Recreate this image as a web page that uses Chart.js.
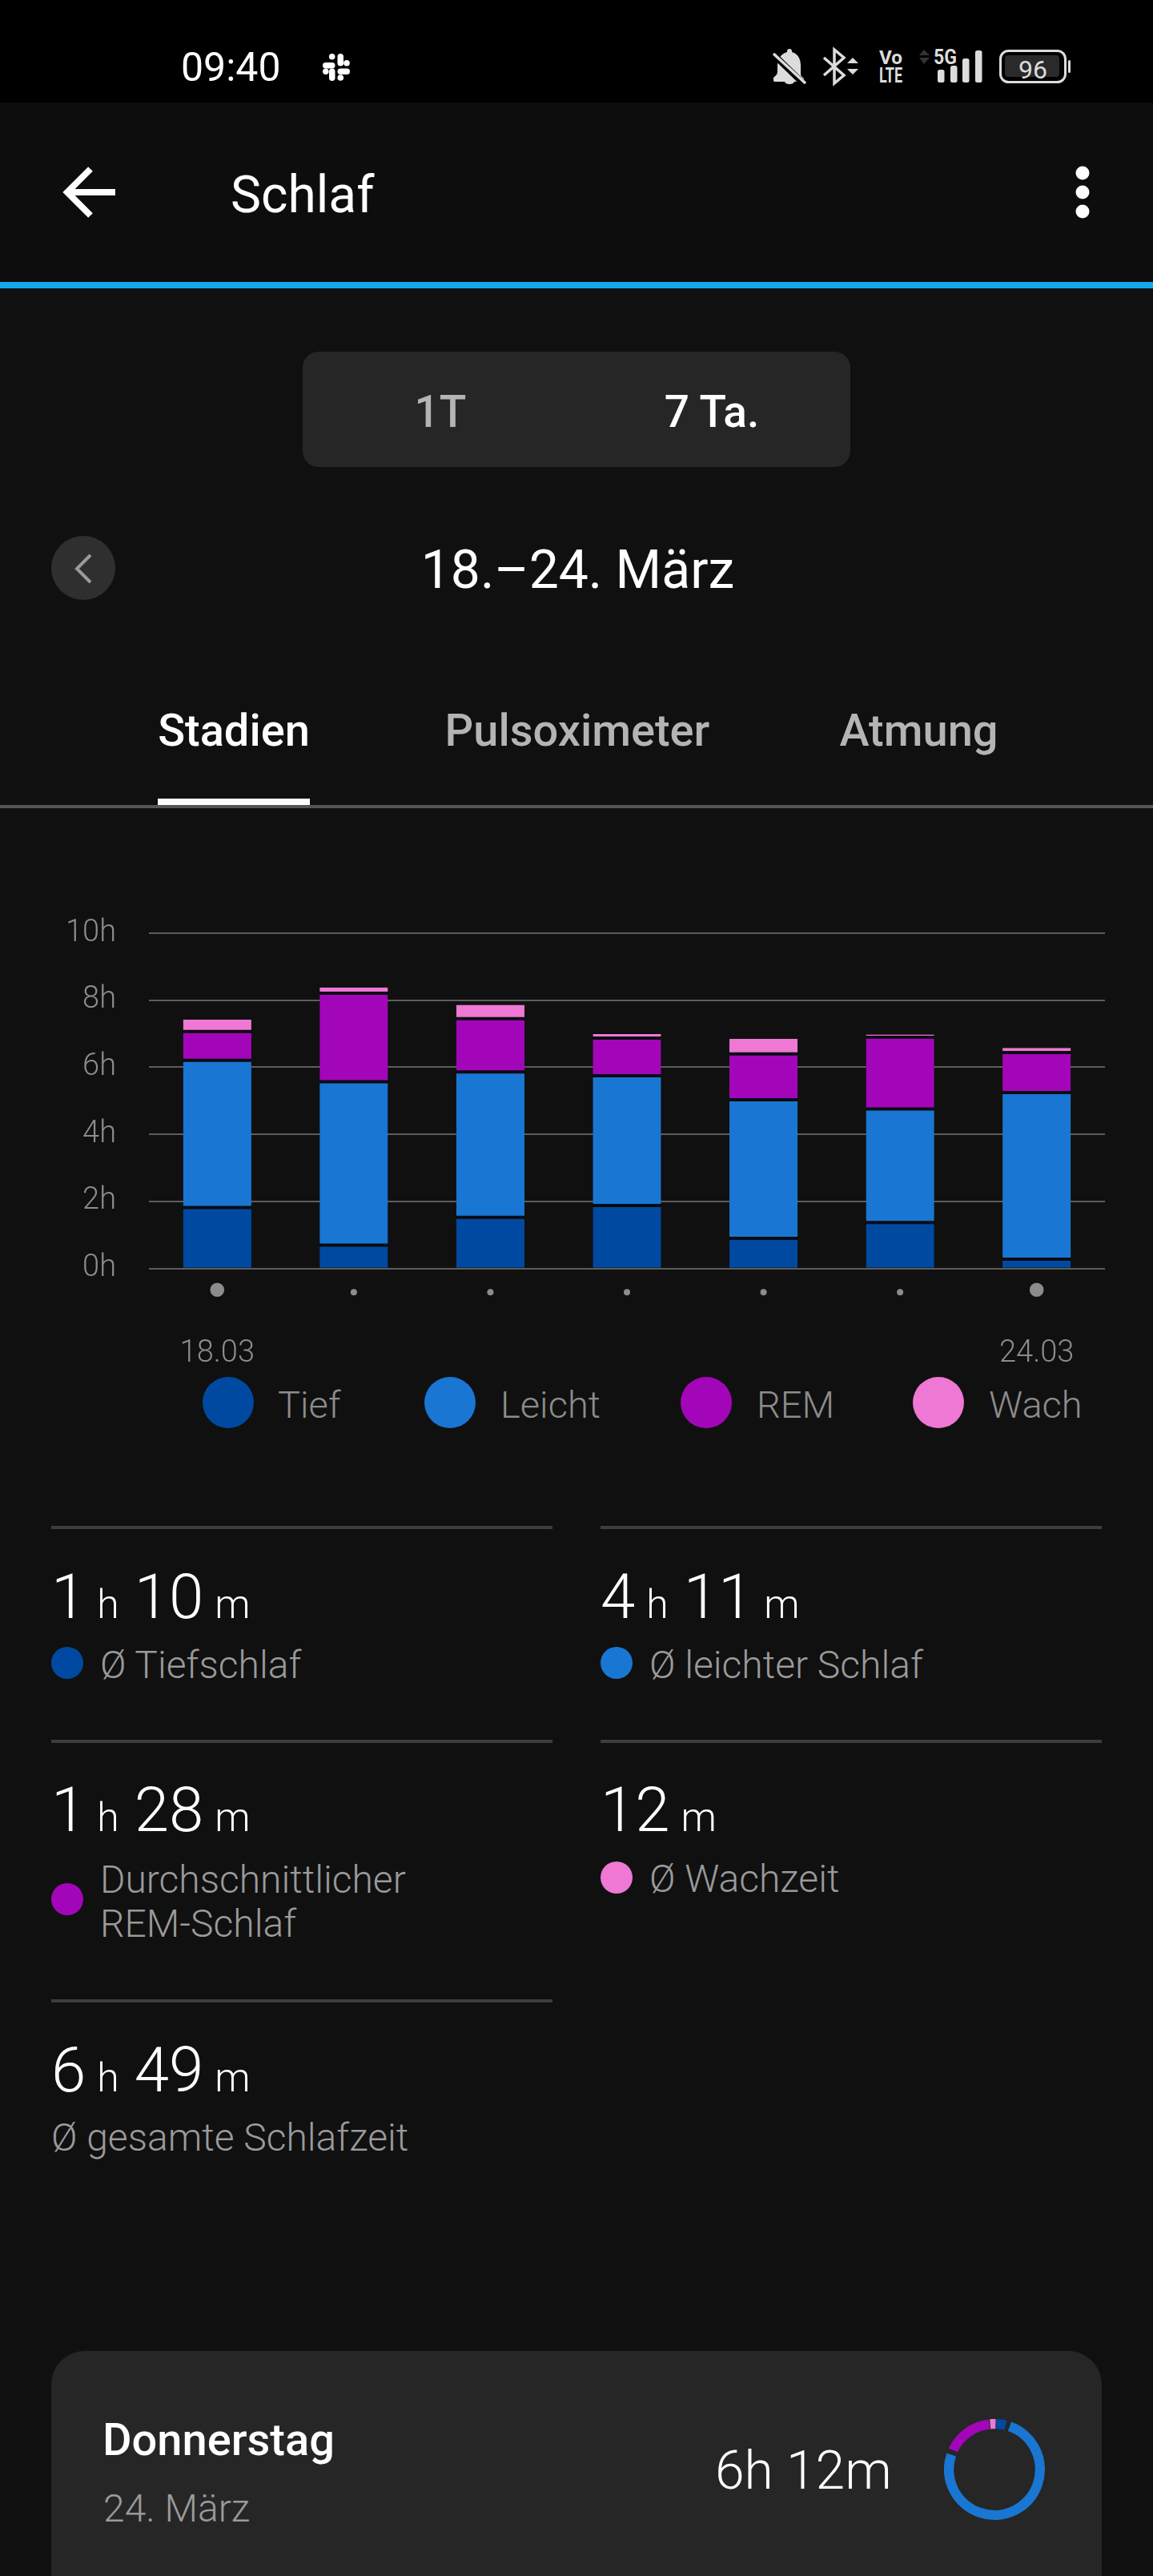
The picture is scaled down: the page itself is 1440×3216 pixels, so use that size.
<!DOCTYPE html>
<html lang="de">
<head>
<meta charset="utf-8">
<title>Schlaf</title>
<script src="https://cdn.jsdelivr.net/npm/chart.js@4/dist/chart.umd.min.js"></script>
<style>
html,body{margin:0;padding:0;background:#101010;width:1440px;height:3216px;overflow:hidden;font-family:Roboto,sans-serif;}
.b{position:absolute;}
.t{position:absolute;white-space:nowrap;line-height:1;}
canvas{display:block;}
</style>
</head>
<body>
<div class="b" style="left:0;top:0;width:1440px;height:128px;background:#000"></div>
<div class="b" style="left:0;top:128px;width:1440px;height:224px;background:#0d0d0d"></div>
<div class="b" style="left:0;top:352px;width:1440px;height:8px;background:#12a8ee"></div>
<div class="b" style="left:378px;top:439px;width:684px;height:144px;background:#262626;border-radius:20px"></div>
<div class="b" style="left:197px;top:997px;width:190px;height:8px;background:#fff"></div>
<div class="b" style="left:0;top:1005px;width:1440px;height:4px;background:#555"></div>
<div class="b" style="left:64px;top:2935px;width:1312px;height:320px;background:#262626;border-radius:42px"></div>

<svg class="b" style="left:0;top:0" width="1440" height="760" viewBox="0 0 1440 760">
  <!-- slack -->
  <g transform="translate(400,64)" fill="#fff">
    <rect x="3" y="14" width="15.5" height="7.5" rx="3.75"/><circle cx="14.7" cy="6.8" r="3.8"/>
    <rect x="21.5" y="3" width="7.5" height="15.5" rx="3.75"/><circle cx="33" cy="14.7" r="3.8"/>
    <rect x="21.5" y="21.5" width="15.5" height="7.5" rx="3.75"/><circle cx="25.3" cy="33" r="3.8"/>
    <rect x="11" y="21.5" width="7.5" height="15.5" rx="3.75"/><circle cx="6.8" cy="25.3" r="3.8"/>
  </g>
  <!-- bell -->
  <g fill="#dcdcdc">
    <path d="M986 61c2 0 3 1 3 3v1c8 2 11 9 11 17v11c0 2 2 3 4 5v2c0 1-1 2-3 2h-33c-2 0-2-1-2-2v-3c2-2 5-4 5-7V82c0-8 4-15 12-17v-1c0-2 1-3 3-3z"/>
    <path d="M980 101h12c0 3-3 4-6 4s-6-1-6-4z"/>
    <path d="M966 68l38 37" stroke="#000" stroke-width="8"/>
    <path d="M966 67l40 37" stroke="#dcdcdc" stroke-width="3.5"/>
  </g>
  <!-- bluetooth -->
  <path d="M1029 72l25 22-12 10V62l12 10-25 22" fill="none" stroke="#dcdcdc" stroke-width="3.5"/>
  <path d="M1058 79l7-7 7 7zM1058 86l14 0-7 7z" fill="#dcdcdc"/>
  <!-- volte -->
  <g fill="#dcdcdc" font-family="Roboto" font-weight="700">
    <text x="1098" y="80" font-size="23" textLength="29" lengthAdjust="spacingAndGlyphs">Vo</text>
    <text x="1098" y="103" font-size="25" textLength="29" lengthAdjust="spacingAndGlyphs">LTE</text>
    <text x="1166" y="80" font-size="26" textLength="29" lengthAdjust="spacingAndGlyphs">5G</text>
  </g>
  <path d="M1148 69l6-7 7 7zM1148 72h13l-7 8z" fill="#333"/>
  <g fill="#dcdcdc">
    <rect x="1171" y="87" width="8.5" height="16" rx="2.5"/>
    <rect x="1187" y="82" width="8.5" height="21" rx="2.5"/>
    <rect x="1202" y="73" width="8.5" height="30" rx="2.5"/>
    <rect x="1218" y="63" width="8.5" height="40" rx="2.5"/>
    <rect x="1334" y="75" width="3" height="16" rx="1.5"/>
  </g>
  <rect x="1249.5" y="63.5" width="81" height="39" rx="10" fill="none" stroke="#dcdcdc" stroke-width="3"/>
  <rect x="1255" y="69" width="68" height="27" rx="4" fill="#2a2a2a"/>
  <!-- back arrow -->
  <path d="M144 240H90M113 211l-29 29 29 29" fill="none" stroke="#fff" stroke-width="8"/>
  <circle cx="1352" cy="216" r="8.5" fill="#fff"/><circle cx="1352" cy="240" r="8.5" fill="#fff"/><circle cx="1352" cy="264" r="8.5" fill="#fff"/>
  <!-- prev -->
  <circle cx="104" cy="709" r="40" fill="#2f2f2f"/>
  <path d="M113 693l-17 17 17 17" fill="none" stroke="#9a9a9a" stroke-width="4"/>
</svg>

<div id="ui"></div>

<div class="b" style="left:0;top:1100px;width:1440px;height:620px"><canvas id="bars" width="1440" height="620"></canvas></div>
<div class="b" style="left:1179px;top:3019.5px;width:126px;height:126px"><canvas id="ring" width="126" height="126"></canvas></div>

<script>
// ---------- chart data (hours) ----------
const categories = ['18.03','19.03','20.03','21.03','22.03','23.03','24.03'];
const seriesNames = ['Tief','Leicht','REM','Wach'];
const tief   = [1.82,0.70,1.53,1.88,0.90,1.37,0.28];
const leicht = [4.39,4.87,4.33,3.87,4.13,3.39,4.97];
const rem    = [0.86,2.64,1.59,1.12,1.37,2.14,1.19];
const wach   = [0.35,0.17,0.41,0.12,0.45,0.08,0.14];
const yTicks = [0,2,4,6,8,10];
const shownDates = ['18.03','24.03'];
// Donnerstag, 24. März
const dayValues = [0.22,4.75,1.03,0.12];

const cTief='#0049a1', cLeicht='#1976d3', cRem='#a306b8', cWach='#ee78d3';
const seriesColors=[cTief,cLeicht,cRem,cWach];
const grey='#8c8c8c', gap='#0a0c12';

// ---------- text ----------
const ui=document.getElementById('ui');
function T(text,x,base,size,weight,color,align){
  const d=document.createElement('div');d.className='t';d.textContent=text;
  d.style.cssText=`top:${base-0.841*size}px;font-size:${size}px;font-weight:${weight};color:${color};`+
    (align==='c'?`left:${x-600}px;width:1200px;text-align:center;`:`left:${x}px;`);
  ui.appendChild(d);return d;
}
T('09:40',226,101,50,400,'#fff');
T('96',1290,98,32,400,'#dcdcdc','c');
T('Schlaf',288,266,64,400,'#fff');
T('1T',550,533,55,500,'#b4b4b4','c');
T('7 Ta.',889,533,55,500,'#fff','c');
T('18.–24. März',721.5,735,66,400,'#fff','c');
T('Stadien',292,931,56,500,'#fff','c');
T('Pulsoximeter',721,931,56,500,'#b4b4b4','c');
T('Atmung',1147.5,931,56,500,'#b4b4b4','c');

function V(x,base,parts){
  const d=document.createElement('div');d.className='t';
  d.style.cssText=`left:${x}px;top:${base-0.841*78}px;height:78px;color:#fff;font-weight:300;font-size:78px;`;
  parts.forEach(p=>{const s=document.createElement('span');s.textContent=p[0];
    s.style.fontSize=p[1]+'px';s.style.marginLeft=p[2]+'px';d.appendChild(s);});
  ui.appendChild(d);
}
function hm(x,base,h,m){V(x,base,[[h,78,0],['h',50,14],[m,78,19],['m',50,14]]);}
function dot(x,y,c){const d=document.createElement('div');d.className='b';
  d.style.cssText=`left:${x-20}px;top:${y-20}px;width:40px;height:40px;border-radius:50%;background:${c}`;ui.appendChild(d);}
function rule(x,y){const d=document.createElement('div');d.className='b';
  d.style.cssText=`left:${x}px;top:${y}px;width:626px;height:3.5px;background:#3d3d3d`;ui.appendChild(d);}
const sub='#9a9a9a';
rule(64,1905);rule(750,1905);rule(64,2172);rule(750,2172);rule(64,2496);
hm(64,2021,'1','10');hm(750,2021,'4','11');hm(64,2287,'1','28');
V(750,2287,[['12',78,0],['m',50,14]]);
hm(64,2612,'6','49');
dot(84,2076,cTief);T('Ø Tiefschlaf',125,2095,48,300,sub);
dot(770,2076,cLeicht);T('Ø leichter Schlaf',811,2095,48,300,sub);
dot(84,2371,cRem);T('Durchschnittlicher',125,2363,48,300,sub);T('REM-Schlaf',125,2418,48,300,sub);
dot(770,2343.5,cWach);T('Ø Wachzeit',811,2362,48,300,sub);
T('Ø gesamte Schlafzeit',64,2685,48,300,sub);
T('Donnerstag',128,3065,56,500,'#fff');
T('24. März',129,3148,48,300,sub);
T('6h 12m',893,3108,66,300,'#fff');

// ---------- legend, from the series ----------
const legendDot=[285,562,882,1172];
const legendTxt=[347,625,945,1235];
seriesNames.forEach((n,i)=>{
  const d=document.createElement('div');d.className='b';
  d.style.cssText=`left:${legendDot[i]-32}px;top:1719px;width:64px;height:64px;border-radius:50%;background:${seriesColors[i]}`;
  ui.appendChild(d);
  T(n,legendTxt[i],1770,47,300,grey);
});

// ---------- chart ----------
Chart.defaults.animation=false;
const segment=(label,data,color,top,bottom)=>({label,data,backgroundColor:color,borderColor:gap,
  borderWidth:{top,bottom,left:0,right:0},borderSkipped:false,barPercentage:0.5,categoryPercentage:1});
const sleepDots={id:'sleepDots',afterDraw(c){
  const x=c.scales.x,b=c.chartArea.bottom,ctx=c.ctx;
  ctx.save();ctx.fillStyle=grey;
  categories.forEach((cat,i)=>{
    const big=shownDates.includes(cat);
    ctx.beginPath();ctx.arc(x.getPixelForValue(i),b+(big?26.5:29.5),big?8.8:4,0,Math.PI*2);ctx.fill();
  });
  ctx.restore();
}};
new Chart(document.getElementById('bars'),{
  type:'bar',
  data:{labels:categories,datasets:[
    segment(seriesNames[0],tief,cTief,2,0),
    segment(seriesNames[1],leicht,cLeicht,2,2),
    segment(seriesNames[2],rem,cRem,2,2),
    segment(seriesNames[3],wach,cWach,0,2)
  ]},
  options:{
    responsive:false,devicePixelRatio:1,animation:false,
    layout:{padding:{top:65,right:60,left:0,bottom:0}},
    plugins:{legend:{display:false},tooltip:{enabled:false}},
    scales:{
      x:{stacked:true,grid:{display:false,drawTicks:false},border:{display:false},
        afterFit(s){s.height=136.3;},
        ticks:{autoSkip:false,maxRotation:0,padding:84,color:grey,font:{family:'Roboto',size:38,weight:'300'},
          callback(v){const l=categories[v];return shownDates.includes(l)?l:'';}}},
      y:{stacked:true,min:0,max:10,grid:{color:'#5c5c5c',lineWidth:2,drawTicks:false},border:{display:false},
        afterFit(s){s.width=186;},
        afterBuildTicks(s){s.ticks=yTicks.map(value=>({value}));},
        ticks:{padding:41,color:grey,font:{family:'Roboto',size:38,weight:'300'},callback(v){return v+'h';}}}
    }
  },
  plugins:[sleepDots]
});
new Chart(document.getElementById('ring'),{
  type:'doughnut',
  data:{labels:seriesNames,datasets:[{data:dayValues,backgroundColor:seriesColors,borderWidth:0,spacing:4}]},
  options:{responsive:false,devicePixelRatio:1,animation:false,cutout:'80%',rotation:1.5,
    layout:{padding:0},plugins:{legend:{display:false},tooltip:{enabled:false}}}
});
</script>
</body>
</html>
